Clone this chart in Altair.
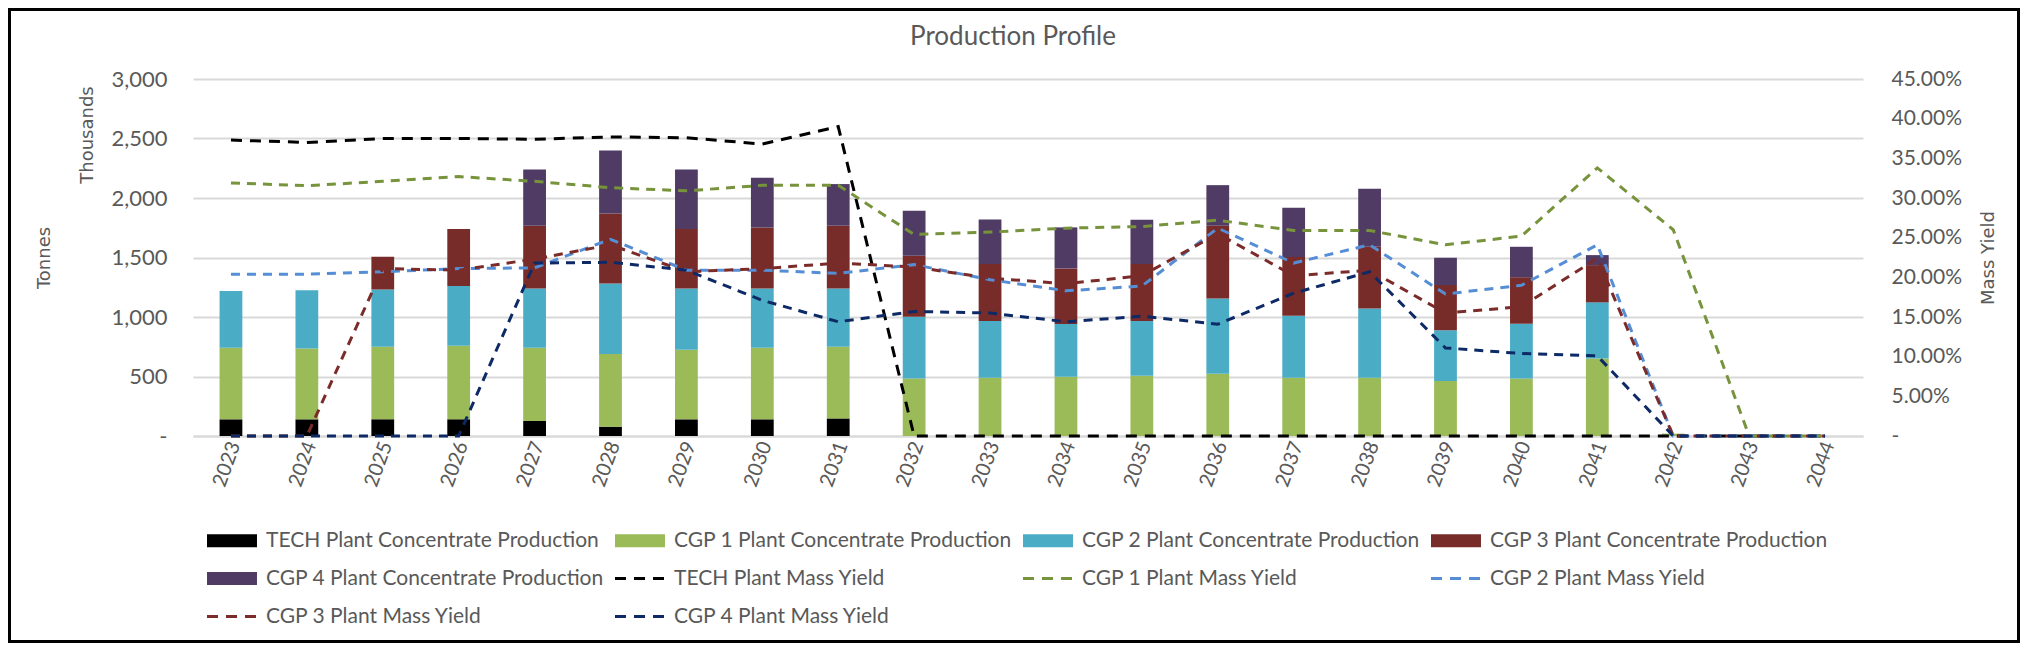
import altair as alt
import pandas as pd

years = [str(y) for y in range(2023, 2045)]

bar_series = [
    "TECH Plant Concentrate Production",
    "CGP 1 Plant Concentrate Production",
    "CGP 2 Plant Concentrate Production",
    "CGP 3 Plant Concentrate Production",
    "CGP 4 Plant Concentrate Production",
]
line_series = [
    "TECH Plant Mass Yield",
    "CGP 1 Plant Mass Yield",
    "CGP 2 Plant Mass Yield",
    "CGP 3 Plant Mass Yield",
    "CGP 4 Plant Mass Yield",
]

# Concentrate production (thousand tonnes), 2023..2044
tech_prod = [140, 140, 140, 140, 126, 78, 140, 140, 148, 0, 0, 0, 0, 0, 0, 0, 0, 0, 0, 0, 0, 0]
cgp1_prod = [602, 596, 610, 619, 616, 611, 585, 602, 602, 484, 490, 498, 507, 524, 490, 490, 462, 484, 652, 20, 0, 0]
cgp2_prod = [476, 488, 482, 501, 498, 593, 515, 498, 490, 518, 476, 443, 459, 632, 521, 582, 426, 460, 471, 0, 0, 0]
cgp3_prod = [0, 0, 274, 479, 527, 588, 499, 513, 527, 513, 479, 467, 479, 611, 493, 518, 380, 389, 313, 0, 0, 0]
cgp4_prod = [0, 0, 0, 0, 473, 530, 501, 417, 350, 378, 375, 345, 372, 341, 414, 488, 230, 257, 84, 0, 0, 0]

# Mass yield (%), 2023..2044
tech_yield = [37.3, 37.0, 37.5, 37.5, 37.4, 37.7, 37.6, 36.8, 39.0, 0, 0, 0, 0, 0, 0, 0, 0, 0, 0, 0, 0, 0]
cgp1_yield = [31.9, 31.55, 32.1, 32.7, 32.1, 31.3, 30.9, 31.6, 31.6, 25.4, 25.7, 26.2, 26.4, 27.2, 25.9, 25.9, 24.1, 25.2, 33.8, 26.0, 0, 0]
cgp2_yield = [20.4, 20.4, 20.7, 21.1, 21.2, 24.8, 20.9, 20.9, 20.5, 21.6, 19.7, 18.3, 18.9, 26.2, 21.8, 24.1, 17.9, 19.0, 24.1, 0, 0, 0]
cgp3_yield = [0, 0, 21.1, 20.9, 22.3, 24.1, 20.7, 21.1, 21.8, 21.3, 19.9, 19.2, 20.2, 25.5, 20.2, 20.9, 15.5, 16.3, 22.4, 0, 0, 0]
cgp4_yield = [0, 0, 0, 0, 21.8, 21.9, 20.9, 17.1, 14.4, 15.7, 15.5, 14.4, 15.1, 14.1, 18.0, 20.7, 11.1, 10.4, 10.1, 0, 0, 0]

bar_colors = ["#000000", "#9BBB59", "#4BACC6", "#772C2A", "#4F3B64"]
line_colors = ["#000000", "#77933C", "#558ED5", "#7B2C2A", "#0E2A66"]
line_dashes = [[11, 8], [9, 7], [9, 7], [9, 7], [9, 7]]

left_ticks = [0, 500, 1000, 1500, 2000, 2500, 3000]
right_ticks = [0, 5, 10, 15, 20, 25, 30, 35, 40, 45]

chart_title = "Production Profile"
left_title = "Tonnes"
units_label = "Thousands"
right_title = "Mass Yield"

prods = [tech_prod, cgp1_prod, cgp2_prod, cgp3_prod, cgp4_prod]
yields = [tech_yield, cgp1_yield, cgp2_yield, cgp3_yield, cgp4_yield]

bar_rows = []
for i, (name, vals) in enumerate(zip(bar_series, prods)):
    for y, v in zip(years, vals):
        bar_rows.append({"year": y, "series": name, "value": v, "idx": i})
bars_df = pd.DataFrame(bar_rows)

line_rows = []
for i, (name, vals) in enumerate(zip(line_series, yields)):
    for y, v in zip(years, vals):
        line_rows.append({"year": y, "series": name, "value": v, "idx": i})
lines_df = pd.DataFrame(line_rows)

all_series = bar_series + line_series
all_colors = bar_colors + line_colors

GRAY = "#595959"
is_bar = "indexof(datum.value, 'Production') >= 0"
BAR_PATH = "M-1,-1H6.69V1H-1Z"
DASH_PATH = ("M-1,-0.23H0.69V0.23H-1Z"
             "M1.92,-0.23H3.62V0.23H1.92Z"
             "M4.85,-0.23H6.54V0.23H4.85Z")

legend = alt.Legend(
    title=None,
    orient="none",
    direction="horizontal",
    legendX=10,
    legendY=451,
    columns=4,
    gridAlign="all",
    values=all_series,
    symbolSize=169,
    symbolType=alt.ExprRef(expr=is_bar + " ? '" + BAR_PATH + "' : '" + DASH_PATH + "'"),
    symbolStrokeWidth=0,
    symbolOpacity=1,
    labelOffset=42,
    labelFont="Lato",
    labelFontSize=21,
    labelColor=GRAY,
    labelLimit=600,
    columnPadding=7,
    rowPadding=16,
)

color_scale = alt.Scale(domain=all_series, range=all_colors)

x_enc = alt.X(
    "year:N",
    sort=years,
    scale=alt.Scale(paddingInner=0.7, paddingOuter=0.35),
    axis=alt.Axis(
        title=None,
        labelAngle=-70,
        labelFont="Lato",
        labelFontSize=20,
        labelColor=GRAY,
        labelPadding=6,
        labelOffset=4,
        ticks=False,
        domain=True,
        domainColor="#D9D9D9",
        domainWidth=2,
        grid=False,
    ),
)

bars = alt.Chart(bars_df).mark_bar().encode(
    x=x_enc,
    y=alt.Y(
        "value:Q",
        stack="zero",
        scale=alt.Scale(domain=[0, 3000], nice=False),
        axis=alt.Axis(
            orient="left",
            values=left_ticks,
            labelExpr="datum.value == 0 ? '-\u00a0\u00a0' : format(datum.value, ',')",
            labelFont="Lato",
            labelFontSize=22,
            labelColor=GRAY,
            labelPadding=26,
            ticks=False,
            domain=False,
            grid=True,
            gridColor="#D9D9D9",
            gridWidth=2,
            title=left_title,
            titleFont="DejaVu Sans",
            titleFontSize=18,
            titleFontWeight="normal",
            titleColor=GRAY,
            titleX=-149,
            titleY=178.5,
            titleAngle=270,
            titleAlign="center",
            titleBaseline="middle",
        ),
    ),
    color=alt.Color("series:N", scale=color_scale, legend=legend),
    order=alt.Order("idx:Q", sort="ascending"),
)

lines = alt.Chart(lines_df).mark_line(strokeWidth=3).encode(
    x=x_enc,
    y=alt.Y(
        "value:Q",
        scale=alt.Scale(domain=[0, 45], nice=False),
        axis=alt.Axis(
            orient="right",
            values=right_ticks,
            labelExpr="datum.value == 0 ? '-' : format(datum.value / 100, '.2%')",
            labelFont="Lato",
            labelFontSize=21,
            labelColor=GRAY,
            labelPadding=28,
            ticks=False,
            domain=False,
            grid=False,
            title=right_title,
            titleFont="DejaVu Sans",
            titleFontSize=18,
            titleFontWeight="normal",
            titleColor=GRAY,
            titleX=125,
            titleY=178.5,
            titleAngle=270,
            titleAlign="center",
            titleBaseline="middle",
        ),
    ),
    color=alt.Color("series:N", scale=color_scale, legend=legend),
    strokeDash=alt.StrokeDash(
        "series:N", scale=alt.Scale(domain=line_series, range=line_dashes), legend=None
    ),
)

thousands = alt.Chart(alt.Data(values=[{"t": units_label}])).mark_text(
    angle=270, font="DejaVu Sans", fontSize=18, color=GRAY, align="center", baseline="middle"
).encode(x=alt.value(-105), y=alt.value(56), text="t:N")

title_text = alt.Chart(alt.Data(values=[{"t": chart_title}])).mark_text(
    font="Lato", fontSize=26, color=GRAY, align="center", baseline="alphabetic"
).encode(x=alt.value(820), y=alt.value(-34), text="t:N")

PAD_L, PAD_T, PAD_R, PAD_B = 185, 71, 157, 207
W, H = 1670, 357

frame = alt.Chart(alt.Data(values=[{"f": 1}])).mark_rect(
    fillOpacity=0, stroke="#000000", strokeWidth=3
).encode(
    x=alt.value(-PAD_L + 1.5),
    x2=alt.value(W + PAD_R - 1.5),
    y=alt.value(-PAD_T + 1.5),
    y2=alt.value(H + PAD_B - 1.5),
)

chart = (
    alt.layer(bars, lines, thousands, title_text, frame)
    .resolve_scale(y="independent")
    .properties(
        width=W,
        height=H,
        padding={"left": PAD_L, "top": PAD_T, "right": PAD_R, "bottom": PAD_B},
        autosize=alt.AutoSizeParams(type="none"),
        background="white",
    )
    .configure_view(stroke=None)
)

chart.save("out.html", embed_options={"renderer": "svg", "actions": False})
